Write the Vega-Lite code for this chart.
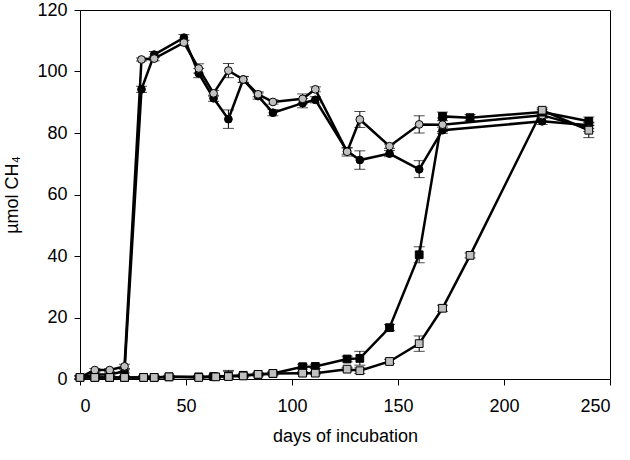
{
  "$schema": "https://vega.github.io/schema/vega-lite/v6.json",
  "width": 530,
  "height": 369,
  "autosize": "none",
  "padding": {"left": 80, "top": 10, "right": 20, "bottom": 81},
  "background": "white",
  "config": {
    "view": {"stroke": "black", "strokeWidth": 1},
    "font": "Liberation Sans",
    "axis": {"grid": false, "domainColor": "black", "tickColor": "black", "labelColor": "black", "titleColor": "black", "labelFont": "Liberation Sans", "titleFont": "Liberation Sans", "labelFontSize": 18, "titleFontSize": 18, "titleFontWeight": "normal", "tickSize": 6}
  },
  "data": {"values": [
    {"s": "A", "d": 0, "y": 0.5, "lo": 0, "hi": 1},
    {"s": "A", "d": 7, "y": 1.5, "lo": 1, "hi": 2},
    {"s": "A", "d": 14, "y": 1.5, "lo": 1, "hi": 2},
    {"s": "A", "d": 21, "y": 2.5, "lo": 2, "hi": 3},
    {"s": "A", "d": 29, "y": 94.2, "lo": 93.2, "hi": 95.2},
    {"s": "A", "d": 35, "y": 105.5, "lo": 104.5, "hi": 106.5},
    {"s": "A", "d": 49, "y": 111, "lo": 110, "hi": 112},
    {"s": "A", "d": 56, "y": 99.4, "lo": 98, "hi": 101},
    {"s": "A", "d": 63, "y": 91.3, "lo": 90.3, "hi": 92.3},
    {"s": "A", "d": 70, "y": 84.5, "lo": 81.5, "hi": 87.5},
    {"s": "A", "d": 77, "y": 97.4, "lo": 96.4, "hi": 98.4},
    {"s": "A", "d": 84, "y": 92, "lo": 91, "hi": 93},
    {"s": "A", "d": 91, "y": 86.6, "lo": 85.6, "hi": 87.6},
    {"s": "A", "d": 105, "y": 89.7, "lo": 88.2, "hi": 91.2},
    {"s": "A", "d": 111, "y": 90.8, "lo": 89.8, "hi": 91.8},
    {"s": "A", "d": 126, "y": 74.1, "lo": 73.1, "hi": 75.1},
    {"s": "A", "d": 132, "y": 71.2, "lo": 68.2, "hi": 74.2},
    {"s": "A", "d": 146, "y": 73.3, "lo": 72.3, "hi": 74.3},
    {"s": "A", "d": 160, "y": 68.2, "lo": 65.5, "hi": 71},
    {"s": "A", "d": 171, "y": 80.9, "lo": 79.9, "hi": 81.9},
    {"s": "A", "d": 218, "y": 83.8, "lo": 82.8, "hi": 84.8},
    {"s": "A", "d": 240, "y": 82.5, "lo": 81.5, "hi": 83.5},
    {"s": "B", "d": 0, "y": 0.5, "lo": 0, "hi": 1},
    {"s": "B", "d": 7, "y": 2.9, "lo": 2.4, "hi": 3.4},
    {"s": "B", "d": 14, "y": 2.9, "lo": 2.4, "hi": 3.4},
    {"s": "B", "d": 21, "y": 4.1, "lo": 3.4, "hi": 4.8},
    {"s": "B", "d": 29, "y": 103.9, "lo": 103.4, "hi": 104.4},
    {"s": "B", "d": 35, "y": 104.2, "lo": 103.5, "hi": 104.9},
    {"s": "B", "d": 49, "y": 109.4, "lo": 108.6, "hi": 110.2},
    {"s": "B", "d": 56, "y": 101, "lo": 99.5, "hi": 102.5},
    {"s": "B", "d": 63, "y": 92.9, "lo": 92, "hi": 93.8},
    {"s": "B", "d": 70, "y": 100.3, "lo": 98, "hi": 102.6},
    {"s": "B", "d": 77, "y": 97.4, "lo": 96.5, "hi": 98.3},
    {"s": "B", "d": 84, "y": 92.6, "lo": 91.8, "hi": 93.4},
    {"s": "B", "d": 91, "y": 90.1, "lo": 89.4, "hi": 90.8},
    {"s": "B", "d": 105, "y": 91.1, "lo": 89.5, "hi": 92.7},
    {"s": "B", "d": 111, "y": 94.2, "lo": 93.4, "hi": 95},
    {"s": "B", "d": 126, "y": 73.9, "lo": 72.5, "hi": 75.3},
    {"s": "B", "d": 132, "y": 84.4, "lo": 81.8, "hi": 87},
    {"s": "B", "d": 146, "y": 75.7, "lo": 75, "hi": 76.4},
    {"s": "B", "d": 160, "y": 82.8, "lo": 80, "hi": 85.6},
    {"s": "B", "d": 171, "y": 82.7, "lo": 80.5, "hi": 84.9},
    {"s": "B", "d": 218, "y": 85.8, "lo": 85, "hi": 86.6},
    {"s": "B", "d": 240, "y": 81.5, "lo": 80.5, "hi": 82.5},
    {"s": "C", "d": 0, "y": 0.5, "lo": 0, "hi": 1},
    {"s": "C", "d": 7, "y": 0.5, "lo": 0, "hi": 1},
    {"s": "C", "d": 14, "y": 0.5, "lo": 0, "hi": 1},
    {"s": "C", "d": 21, "y": 0.5, "lo": 0, "hi": 1},
    {"s": "C", "d": 30, "y": 0.5, "lo": 0, "hi": 1},
    {"s": "C", "d": 35, "y": 0.5, "lo": 0, "hi": 1},
    {"s": "C", "d": 42, "y": 0.7, "lo": 0.2, "hi": 1.2},
    {"s": "C", "d": 56, "y": 0.7, "lo": 0.2, "hi": 1.2},
    {"s": "C", "d": 63, "y": 0.8, "lo": 0.3, "hi": 1.3},
    {"s": "C", "d": 70, "y": 1, "lo": 0.3, "hi": 2.8},
    {"s": "C", "d": 77, "y": 1.2, "lo": 0.7, "hi": 1.7},
    {"s": "C", "d": 84, "y": 1.5, "lo": 1, "hi": 2},
    {"s": "C", "d": 91, "y": 1.8, "lo": 1.3, "hi": 2.3},
    {"s": "C", "d": 105, "y": 4, "lo": 3.2, "hi": 4.8},
    {"s": "C", "d": 111, "y": 4.1, "lo": 3.4, "hi": 4.8},
    {"s": "C", "d": 126, "y": 6.5, "lo": 5.6, "hi": 7.4},
    {"s": "C", "d": 132, "y": 6.7, "lo": 4.5, "hi": 9},
    {"s": "C", "d": 146, "y": 16.7, "lo": 15.7, "hi": 17.7},
    {"s": "C", "d": 160, "y": 40.4, "lo": 37.8, "hi": 43},
    {"s": "C", "d": 171, "y": 85.4, "lo": 84, "hi": 86.8},
    {"s": "C", "d": 184, "y": 85, "lo": 84, "hi": 86},
    {"s": "C", "d": 218, "y": 86.8, "lo": 86, "hi": 87.6},
    {"s": "C", "d": 240, "y": 83.8, "lo": 82.4, "hi": 85.2},
    {"s": "D", "d": 0, "y": 0.5, "lo": 0, "hi": 1},
    {"s": "D", "d": 7, "y": 0.5, "lo": 0, "hi": 1},
    {"s": "D", "d": 14, "y": 0.5, "lo": 0, "hi": 1},
    {"s": "D", "d": 21, "y": 0.5, "lo": 0, "hi": 1},
    {"s": "D", "d": 30, "y": 0.5, "lo": 0, "hi": 1},
    {"s": "D", "d": 35, "y": 0.5, "lo": 0, "hi": 1},
    {"s": "D", "d": 42, "y": 0.7, "lo": 0.2, "hi": 1.2},
    {"s": "D", "d": 56, "y": 0.5, "lo": 0, "hi": 1},
    {"s": "D", "d": 64, "y": 0.7, "lo": 0.2, "hi": 1.2},
    {"s": "D", "d": 70, "y": 0.8, "lo": 0.3, "hi": 2.5},
    {"s": "D", "d": 77, "y": 1, "lo": 0.5, "hi": 1.5},
    {"s": "D", "d": 84, "y": 1.5, "lo": 1, "hi": 2},
    {"s": "D", "d": 91, "y": 1.8, "lo": 1.3, "hi": 2.3},
    {"s": "D", "d": 105, "y": 1.9, "lo": 1.4, "hi": 2.4},
    {"s": "D", "d": 111, "y": 1.9, "lo": 1.4, "hi": 2.4},
    {"s": "D", "d": 126, "y": 3.2, "lo": 2.6, "hi": 3.8},
    {"s": "D", "d": 132, "y": 2.7, "lo": 1.8, "hi": 3.6},
    {"s": "D", "d": 146, "y": 5.7, "lo": 5, "hi": 6.4},
    {"s": "D", "d": 160, "y": 11.5, "lo": 9, "hi": 14},
    {"s": "D", "d": 171, "y": 23, "lo": 22, "hi": 24},
    {"s": "D", "d": 184, "y": 40.2, "lo": 39.4, "hi": 41},
    {"s": "D", "d": 218, "y": 87.4, "lo": 86.6, "hi": 88.2},
    {"s": "D", "d": 240, "y": 80.9, "lo": 78.5, "hi": 83.3}
  ]},
  "encoding": {
    "x": {"field": "d", "type": "quantitative", "scale": {"domain": [0, 250], "nice": false}, "axis": {"values": [0, 50, 100, 150, 200, 250], "title": "days of incubation", "titlePadding": 12, "labelPadding": 12}}
  },
  "layer": [
    {
      "mark": {"type": "rule", "color": "black", "strokeWidth": 1},
      "encoding": {
        "y": {"field": "lo", "type": "quantitative", "scale": {"domain": [0, 120], "nice": false}, "axis": {"values": [0, 20, 40, 60, 80, 100, 120], "title": "µmol CH₄", "titlePadding": 15, "labelPadding": 7}},
        "y2": {"field": "hi"}
      }
    },
    {
      "mark": {"type": "tick", "color": "black", "thickness": 1, "size": 11, "orient": "horizontal"},
      "encoding": {"y": {"field": "lo", "type": "quantitative"}}
    },
    {
      "mark": {"type": "tick", "color": "black", "thickness": 1, "size": 11, "orient": "horizontal"},
      "encoding": {"y": {"field": "hi", "type": "quantitative"}}
    },
    {
      "mark": {"type": "line", "color": "black", "strokeWidth": 2.5},
      "encoding": {
        "y": {"field": "y", "type": "quantitative"},
        "detail": {"field": "s"}
      }
    },
    {
      "mark": {"type": "point", "filled": true, "stroke": "black", "strokeWidth": 1, "opacity": 1},
      "encoding": {
        "y": {"field": "y", "type": "quantitative"},
        "shape": {"field": "s", "type": "nominal", "scale": {"domain": ["A", "B", "C", "D"], "range": ["circle", "circle", "square", "square"]}, "legend": null},
        "fill": {"field": "s", "type": "nominal", "scale": {"domain": ["A", "B", "C", "D"], "range": ["black", "#c0c0c0", "black", "#c0c0c0"]}, "legend": null},
        "size": {"field": "s", "type": "nominal", "scale": {"domain": ["A", "B", "C", "D"], "range": [60, 60, 85, 85]}, "legend": null}
      }
    }
  ]
}
